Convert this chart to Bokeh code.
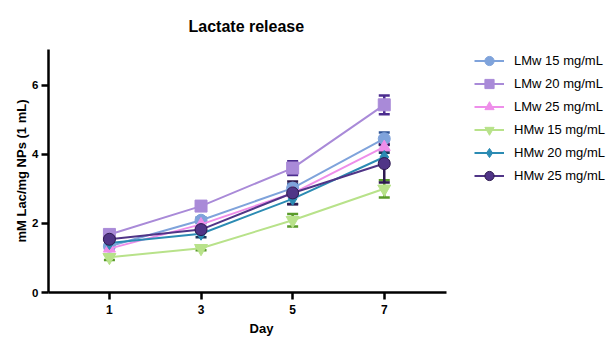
from bokeh.plotting import figure
from bokeh.models import ColumnDataSource, Whisker, TeeHead, Legend, LegendItem, FixedTicker
from bokeh.embed import file_html
from bokeh.resources import INLINE

days = [1, 3, 5, 7]
series_names = ["LMw 15 mg/mL", "LMw 20 mg/mL", "LMw 25 mg/mL",
                "HMw 15 mg/mL", "HMw 20 mg/mL", "HMw 25 mg/mL"]
lmw15 = [1.34, 2.09, 3.02, 4.45]
lmw20 = [1.68, 2.50, 3.60, 5.43]
lmw25 = [1.27, 1.97, 2.87, 4.21]
hmw15 = [1.02, 1.28, 2.09, 3.00]
hmw20 = [1.43, 1.70, 2.71, 3.92]
hmw25 = [1.54, 1.82, 2.88, 3.73]
lmw15_err = [0.08, 0.08, 0.12, 0.18]
lmw20_err = [0.06, 0.06, 0.20, 0.27]
lmw25_err = [0.05, 0.08, 0.08, 0.10]
hmw15_err = [0.08, 0.06, 0.18, 0.25]
hmw20_err = [0.08, 0.10, 0.15, 0.12]
hmw25_err = [0.05, 0.08, 0.33, 0.55]
y_ticks = [0, 2, 4, 6]
x_ticks = [1, 3, 5, 7]

values = [lmw15, lmw20, lmw25, hmw15, hmw20, hmw25]
errors = [lmw15_err, lmw20_err, lmw25_err, hmw15_err, hmw20_err, hmw25_err]
colors = ["#7FA3DB", "#A98AD8", "#EE8EEA", "#B8E28A", "#2B8BB3", "#503587"]
err_colors = ["#2F5597", "#4B2C8E", "#C548C5", "#5A9B2A", "#1C3A5C", "#2E1A50"]
markers = ["circle", "square", "triangle", "inverted_triangle", "diamond", "circle"]
sizes = [12, 12, 12, 13, 13, 12]

FONT = "Liberation Sans"

# x-range extended to the right so the legend panel starts where the reference's legend does;
# the visible x-axis line is limited with bounds.
p = figure(frame_width=426, frame_height=243, x_range=(-0.33, 8.97), y_range=(0, 7.03),
           output_backend="svg", toolbar_location=None,
           title="Lactate release",
           min_border_left=48, min_border_bottom=40, min_border_top=48, min_border_right=0)

p.title.align = "left"
p.title.text_font = FONT
p.title.text_font_size = "16px"
p.title.text_font_style = "bold"
p.title.text_color = "black"
p.title.offset = 140
p.title.standoff = 30

p.outline_line_color = None
p.xgrid.visible = False
p.ygrid.visible = False
p.background_fill_color = "white"
p.border_fill_color = "white"

for ax in (p.xaxis[0], p.yaxis[0]):
    ax.axis_line_width = 2.5
    ax.axis_line_color = "black"
    ax.major_tick_line_width = 2.5
    ax.major_tick_line_color = "black"
    ax.major_tick_out = 7
    ax.major_tick_in = 0
    ax.minor_tick_line_color = None
    ax.major_label_text_font = FONT
    ax.major_label_text_font_style = "bold"
    ax.major_label_text_color = "black"
    ax.axis_label_text_font = FONT
    ax.axis_label_text_font_size = "13px"
    ax.axis_label_text_font_style = "bold"
    ax.axis_label_text_color = "black"

p.xaxis.bounds = (-0.33, 8.36)
p.xaxis.ticker = FixedTicker(ticks=x_ticks)
p.yaxis.ticker = FixedTicker(ticks=y_ticks)
p.xaxis.axis_label = "Day"
p.yaxis.axis_label = "mM Lac/mg NPs (1 mL)"
p.xaxis.major_label_text_font_size = "12px"
p.yaxis.major_label_text_font_size = "11.5px"
p.xaxis.major_label_standoff = 5
p.xaxis.axis_label_standoff = 4
p.yaxis.major_label_standoff = 3
p.yaxis.axis_label_standoff = 0

items = []
for name, vals, errs, c, ec, m, s in zip(series_names, values, errors, colors,
                                         err_colors, markers, sizes):
    src = ColumnDataSource(dict(x=days, y=vals,
                                lo=[v - e for v, e in zip(vals, errs)],
                                hi=[v + e for v, e in zip(vals, errs)]))
    w = Whisker(source=src, base="x", lower="lo", upper="hi",
                line_color=ec, line_width=2.5,
                upper_head=TeeHead(size=11, line_color=ec, line_width=2.5),
                lower_head=TeeHead(size=11, line_color=ec, line_width=2.5))
    p.add_layout(w)
    lr = p.line("x", "y", source=src, line_color=c, line_width=2)
    sr = p.scatter("x", "y", source=src, marker=m, size=s, fill_color=c,
                   line_color=ec if name.startswith("HMw 25") else c, line_width=1)
    items.append(LegendItem(label=name, renderers=[lr, sr]))

legend = Legend(items=items, location="top_left", glyph_width=30, glyph_height=23,
                label_standoff=10, spacing=0, padding=2, margin=0,
                label_text_font=FONT, label_text_font_size="13px",
                label_text_color="black", border_line_color=None,
                background_fill_alpha=0)
p.add_layout(legend, "right")

open("out.html", "w").write(file_html(p, INLINE))
